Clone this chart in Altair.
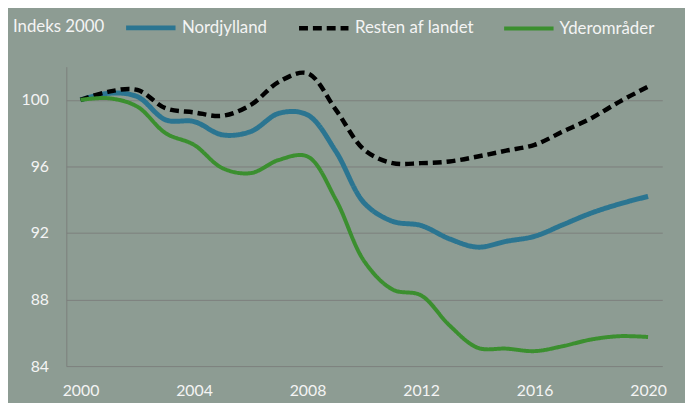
import altair as alt
import pandas as pd

years = list(range(2000, 2021))
nordjylland = [100, 100.4, 100.2, 98.8, 98.7, 97.9, 98.1, 99.2, 99.1, 96.9, 93.8,
               92.7, 92.45, 91.65, 91.15, 91.5, 91.8, 92.5, 93.2, 93.75, 94.2]
resten = [100, 100.5, 100.6, 99.5, 99.25, 99.05, 99.7, 101.1, 101.6, 99.4, 97.0,
          96.2, 96.2, 96.3, 96.6, 96.95, 97.3, 98.1, 98.9, 99.9, 100.8]
yder = [100, 100.1, 99.6, 98.0, 97.3, 95.9, 95.6, 96.4, 96.6, 94.0, 90.3,
        88.6, 88.25, 86.45, 85.1, 85.05, 84.9, 85.2, 85.6, 85.8, 85.75]

series_names = ["Nordjylland", "Resten af landet", "Yderområder"]
series_colors = ["#2b7591", "#000000", "#3b8f2f"]
series_dash = [[1, 0], [9, 5], [1, 0]]
series_width = [5, 4, 5]
x_ticks = [2000, 2004, 2008, 2012, 2016, 2020]
y_ticks = [84, 88, 92, 96, 100]

rows = []
for name, vals in zip(series_names, [nordjylland, resten, yder]):
    for y, v in zip(years, vals):
        rows.append({"year": y, "value": v, "serie": name})
df = pd.DataFrame(rows)

FONT = "Lato"
LABEL = "#f4f4f4"
GRID = "#7c7f7c"

chart = alt.Chart(df).mark_line(interpolate="catmull-rom", strokeCap="butt").encode(
    x=alt.X("year:Q", scale=alt.Scale(domain=[1999.5, 2020.5], nice=False, zero=False),
            axis=alt.Axis(values=x_ticks, format="d", title=None, grid=False, ticks=False,
                          domain=False, labelFont=FONT, labelFontSize=16, labelColor=LABEL,
                          labelPadding=17)),
    y=alt.Y("value:Q", scale=alt.Scale(domain=[84, 102], nice=False, zero=False),
            axis=alt.Axis(values=y_ticks, title=None, grid=True, gridColor=GRID, gridWidth=1,
                          ticks=False, domain=True, domainColor=GRID, labelFont=FONT,
                          labelFontSize=16, labelColor=LABEL, labelPadding=18)),
    color=alt.Color("serie:N", scale=alt.Scale(domain=series_names, range=series_colors),
                    legend=alt.Legend(title="Indeks 2000", titleOrient="left", orient="none",
                                      direction="horizontal", legendX=-54, legendY=-67,
                                      symbolType="stroke", symbolSize=2500,
                                      symbolStrokeWidth=4, labelFont=FONT, labelFontSize=17,
                                      labelColor=LABEL, titleFont=FONT, titleFontSize=17,
                                      titleFontWeight="normal", titleColor=LABEL,
                                      titlePadding=19, labelOffset=4, columnPadding=22,
                                      titleBaseline="top", labelBaseline="middle")),
    strokeDash=alt.StrokeDash("serie:N", scale=alt.Scale(domain=series_names, range=series_dash)),
    strokeWidth=alt.StrokeWidth("serie:N", scale=alt.Scale(domain=series_names, range=series_width),
                                legend=None),
).properties(
    width=603, height=303,
    background="#8d9c93",
    padding={"left": 59, "top": 57, "right": 23, "bottom": 35},
    autosize=alt.AutoSizeParams(type="none"),
).configure_view(stroke=None)

chart.save("out.html", embed_options={"renderer": "svg", "actions": False})
